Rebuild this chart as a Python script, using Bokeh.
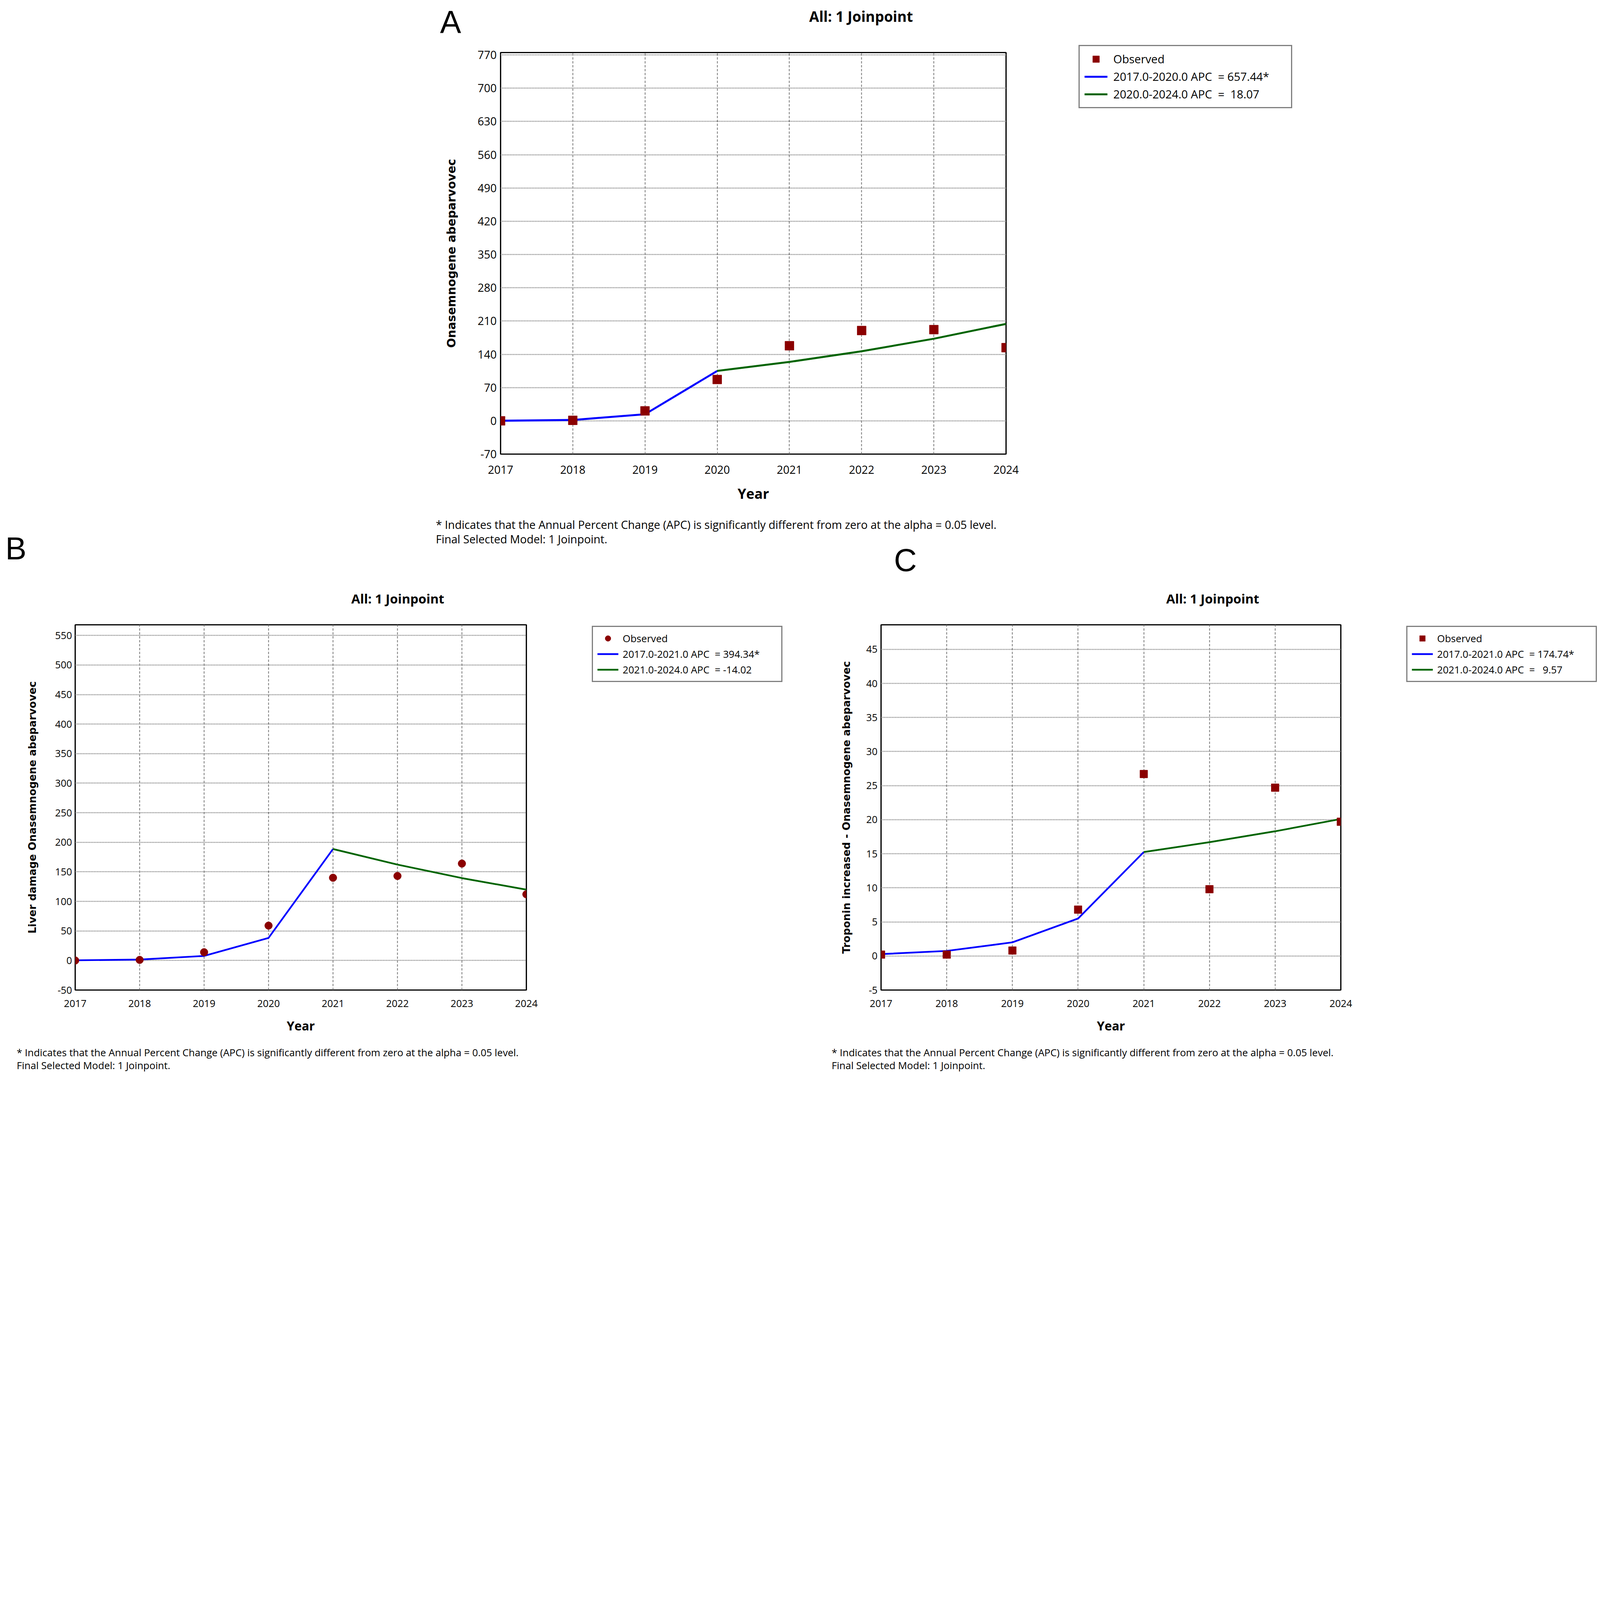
from bokeh.plotting import figure
from bokeh.models import Range1d, FixedTicker, Legend, LegendItem, Label, Spacer
from bokeh.layouts import column, row
from bokeh.core.properties import value
from bokeh.embed import file_html
from bokeh.resources import INLINE

# ---------------- data ----------------
years = [2017, 2018, 2019, 2020, 2021, 2022, 2023, 2024]

a_observed = [0, 1, 21, 87, 158, 190, 192, 154]
a_fit1_years = [2017, 2018, 2019, 2020]
a_fit1 = [0.2, 1.8, 13.9, 105.0]
a_fit2_years = [2020, 2021, 2022, 2023, 2024]
a_fit2 = [105.0, 124.0, 146.4, 172.8, 204.0]
a_y_ticks = [-70, 0, 70, 140, 210, 280, 350, 420, 490, 560, 630, 700, 770]
a_legend = ["Observed", "2017.0-2020.0 APC  = 657.44*", "2020.0-2024.0 APC  =  18.07"]
a_ylabel = "Onasemnogene abeparvovec"

b_observed = [0, 1, 14, 59, 140, 143, 164, 112]
b_fit1_years = [2017, 2018, 2019, 2020, 2021]
b_fit1 = [0.3, 1.6, 7.7, 38.2, 188.6]
b_fit2_years = [2021, 2022, 2023, 2024]
b_fit2 = [188.6, 162.2, 139.4, 119.9]
b_y_ticks = [-50, 0, 50, 100, 150, 200, 250, 300, 350, 400, 450, 500, 550]
b_legend = ["Observed", "2017.0-2021.0 APC  = 394.34*", "2021.0-2024.0 APC  = -14.02"]
b_ylabel = "Liver damage Onasemnogene abeparvovec"

c_observed = [0.2, 0.2, 0.8, 6.8, 26.7, 9.8, 24.7, 19.7]
c_fit1_years = [2017, 2018, 2019, 2020, 2021]
c_fit1 = [0.27, 0.74, 2.0, 5.5, 15.25]
c_fit2_years = [2021, 2022, 2023, 2024]
c_fit2 = [15.25, 16.7, 18.3, 20.1]
c_y_ticks = [-5, 0, 5, 10, 15, 20, 25, 30, 35, 40, 45]
c_legend = ["Observed", "2017.0-2021.0 APC  = 174.74*", "2021.0-2024.0 APC  =   9.57"]
c_ylabel = "Troponin increased - Onasemnogene abeparvovec"

title_text = "All: 1 Joinpoint"
foot1 = "* Indicates that the Annual Percent Change (APC) is significantly different from zero at the alpha = 0.05 level."
foot2 = "Final Selected Model: 1 Joinpoint."

RED = "#8B0000"
BLUE = "#0000FF"
GREEN = "#006400"
GRID = "#707070"
FONT = "Open Sans"
LETTER_FONT = "Liberation Sans"

# ---------------- geometry (reference px -> page px) ----------------
K = 4096 / 6479


def P(r):
    return int(round(r * K))


def S(v):
    return v * K


def FS(v):
    return "%.1fpx" % (v * K)


def draw_series(p, s):
    r1 = p.line(x=s["fit1_years"], y=s["fit1"], line_color=BLUE, line_width=S(s["lw"]))
    r2 = p.line(x=s["fit2_years"], y=s["fit2"], line_color=GREEN, line_width=S(s["lw"]))
    r0 = p.scatter(x=years, y=s["obs"], marker=s["marker"], size=S(s["msize"]),
                   fill_color=RED, line_color=RED)
    return r0, r1, r2


def make_chart(s, cl, ct, cw, ch):
    L, R, T, B = [P(v) for v in s["frame"]]
    y0, y1 = s["yrange"]
    p = figure(width=cw, height=ch, output_backend="svg", toolbar_location=None, title=None,
               x_range=Range1d(2017, 2024), y_range=Range1d(y0, y1),
               min_border_left=L - cl, min_border_right=cl + cw - R,
               min_border_top=T - ct, min_border_bottom=ct + ch - B)
    p.background_fill_color = "white"
    p.border_fill_color = "white"
    p.outline_line_color = "black"
    p.outline_line_width = S(5)

    p.xaxis.ticker = FixedTicker(ticks=years, minor_ticks=[])
    p.yaxis.ticker = FixedTicker(ticks=s["yticks"], minor_ticks=[])
    p.yaxis.major_label_overrides = {s["yticks"][0]: str(s["yticks"][0])}
    for ax in (p.xaxis[0], p.yaxis[0]):
        ax.axis_line_color = None
        ax.major_tick_line_color = None
        ax.minor_tick_line_color = None
        ax.major_tick_out = 0
        ax.major_tick_in = 0
        ax.major_label_text_font = FONT
        ax.major_label_text_font_size = FS(s["tick_fs"])
        ax.major_label_text_color = "black"
    p.xaxis.major_label_standoff = int(round(S(s["x_std"])))
    p.yaxis.major_label_standoff = int(round(S(s["y_std"])))
    p.xaxis.axis_label = "Year"
    p.xaxis.axis_label_text_font = FONT
    p.xaxis.axis_label_text_font_style = "bold"
    p.xaxis.axis_label_text_font_size = FS(s["xlab_fs"])
    p.xaxis.axis_label_text_color = "black"
    p.xaxis.axis_label_standoff = int(round(S(s["xlab_std"])))
    p.yaxis.axis_label = s["ylabel"]
    p.yaxis.axis_label_text_font = "DejaVu Sans"
    p.yaxis.axis_label_text_font_style = "bold"
    p.yaxis.axis_label_text_font_size = FS(s["ylab_fs"])
    p.yaxis.axis_label_text_color = "black"
    p.yaxis.axis_label_standoff = int(round(S(s["ylab_std"])))

    p.xgrid.grid_line_color = GRID
    p.xgrid.grid_line_width = S(3)
    p.xgrid.grid_line_dash = "6 4"
    p.ygrid.grid_line_color = GRID
    p.ygrid.grid_line_width = S(4)
    p.ygrid.grid_line_dash = "2 2"

    draw_series(p, s)
    return p


def make_legend_fig(s, fx0, fy0, fw, fh):
    """Separate canvas for the key; the same series are drawn off-frame so only the key shows."""
    lg = s["legend"]
    m = 3
    lleft, ltop = P(lg["left"]), P(lg["top"])
    q = figure(width=fw, height=fh, output_backend="svg", toolbar_location=None, title=None,
               x_range=Range1d(0, 1), y_range=Range1d(0, 1),
               x_axis_type=None, y_axis_type=None,
               min_border_left=lleft - fx0 - m, min_border_right=0,
               min_border_top=ltop - fy0 - m, min_border_bottom=0)
    q.outline_line_color = None
    q.background_fill_color = "white"
    q.border_fill_color = "white"
    r0, r1, r2 = draw_series(q, s)
    pad, h, sp = lg["pad"], lg["h"], lg["sp"]
    label_w = int(round(S(lg["width"]))) - 2 * pad - lg["gw"] - lg["std"]
    legend = Legend(items=[LegendItem(label=value(s["labels"][0]), renderers=[r0]),
                           LegendItem(label=value(s["labels"][1]), renderers=[r1]),
                           LegendItem(label=value(s["labels"][2]), renderers=[r2])],
                    location="top_left",
                    padding=pad, spacing=sp, margin=m,
                    glyph_width=lg["gw"], glyph_height=h, label_height=h,
                    label_width=label_w, label_standoff=lg["std"],
                    border_line_color="black", border_line_width=3,
                    background_fill_color="white", background_fill_alpha=1.0,
                    label_text_font=FONT, label_text_font_size=FS(lg["fs"]),
                    label_text_color="black")
    q.add_layout(legend)
    return q


def make_banner(width, top_ref, bottom_ref, texts):
    top, bottom = P(top_ref), P(bottom_ref)
    height = bottom - top
    b = figure(width=width, height=height, output_backend="svg", toolbar_location=None, title=None,
               x_range=Range1d(0, width), y_range=Range1d(height, 0),
               x_axis_type=None, y_axis_type=None,
               min_border_left=0, min_border_right=0, min_border_top=0, min_border_bottom=0)
    b.outline_line_color = None
    b.background_fill_color = "white"
    b.border_fill_color = "white"
    for t in texts:
        b.add_layout(Label(x=S(t["x"]), y=S(t["y"]) - top, text=t["text"],
                           text_font=t.get("font", FONT),
                           text_font_size=FS(t["fs"]), text_font_style=t.get("style", "normal"),
                           text_align=t.get("align", "left"), text_baseline="middle",
                           text_color="black"))
    return b


spec_a = dict(frame=(2027, 4073, 212, 1838), yrange=(-70, 775),
              yticks=a_y_ticks, ylabel=a_ylabel, obs=a_observed,
              fit1_years=a_fit1_years, fit1=a_fit1, fit2_years=a_fit2_years, fit2=a_fit2,
              labels=a_legend, marker="square", msize=36, lw=8,
              tick_fs=45, xlab_fs=56, ylab_fs=47,
              x_std=46, y_std=16, xlab_std=36, ylab_std=74,
              legend=dict(left=4367, top=182, width=856, pad=12, sp=3, h=42, gw=59, std=15, fs=46))

spec_b = dict(frame=(303, 2130, 2529, 4009), yrange=(-50, 568),
              yticks=b_y_ticks, ylabel=b_ylabel, obs=b_observed,
              fit1_years=b_fit1_years, fit1=b_fit1, fit2_years=b_fit2_years, fit2=b_fit2,
              labels=b_legend, marker="circle", msize=31, lw=7,
              tick_fs=40, xlab_fs=50, ylab_fs=42,
              x_std=39, y_std=12, xlab_std=36, ylab_std=63,
              legend=dict(left=2396, top=2521, width=763, pad=11, sp=4, h=36, gw=54, std=11, fs=40.5))

spec_c = dict(frame=(3567, 5429, 2529, 4009), yrange=(-5, 48.6),
              yticks=c_y_ticks, ylabel=c_ylabel, obs=c_observed,
              fit1_years=c_fit1_years, fit1=c_fit1, fit2_years=c_fit2_years, fit2=c_fit2,
              labels=c_legend, marker="square", msize=31, lw=7,
              tick_fs=40, xlab_fs=50, ylab_fs=42,
              x_std=39, y_std=14, xlab_std=36, ylab_std=52,
              legend=dict(left=5694, top=2521, width=763, pad=11, sp=4, h=36, gw=54, std=11, fs=40.5))

# vertical bands (reference px)
ROW_A_TOP, ROW_A_BOT = 170, 2088
ROW_BC_TOP, ROW_BC_BOT = 2462, 4230
PAGE_BOT = 4355
FULL_W = P(6475)
EDGE = 45  # room right of each frame for the last year label

# top block: [banner1 over chart A] + tall key canvas for A
a_left = P(1700)
a_right = P(spec_a["frame"][1]) + EDGE
ya0, ya1 = P(ROW_A_TOP), P(ROW_A_BOT)
pA = make_chart(spec_a, a_left, ya0, a_right - a_left, ya1 - ya0)
lA = make_legend_fig(spec_a, a_right, 0, FULL_W - a_right, ya1)

banner1 = make_banner(a_right, 0, ROW_A_TOP, [
    dict(text="A", x=1781, y=88, fs=128, font=LETTER_FONT),
    dict(text=title_text, x=3486, y=65, fs=58, style="bold", align="center"),
])

# row B / C
yb0, yb1 = P(ROW_BC_TOP), P(ROW_BC_BOT)
b_right = P(spec_b["frame"][1]) + EDGE
c_left = P(3250)
c_right = P(spec_c["frame"][1]) + EDGE
pB = make_chart(spec_b, 0, yb0, b_right, yb1 - yb0)
lB = make_legend_fig(spec_b, b_right, yb0, c_left - b_right, yb1 - yb0)
pC = make_chart(spec_c, c_left, yb0, c_right - c_left, yb1 - yb0)
lC = make_legend_fig(spec_c, c_right, yb0, FULL_W - c_right, yb1 - yb0)

banner2 = make_banner(FULL_W, ROW_A_BOT, ROW_BC_TOP, [
    dict(text=foot1, x=1764, y=2122, fs=45.2),
    dict(text=foot2, x=1764, y=2182, fs=45.2),
    dict(text="B", x=21, y=2220, fs=128, font=LETTER_FONT),
    dict(text="C", x=3619, y=2268, fs=128, font=LETTER_FONT),
    dict(text=title_text, x=1610, y=2424, fs=52, style="bold", align="center"),
    dict(text=title_text, x=4910, y=2424, fs=52, style="bold", align="center"),
])
banner3 = make_banner(FULL_W, ROW_BC_BOT, PAGE_BOT, [
    dict(text=foot1, x=67, y=4261, fs=40.5),
    dict(text=foot2, x=67, y=4314, fs=40.5),
    dict(text=foot1, x=3367, y=4261, fs=40.5),
    dict(text=foot2, x=3367, y=4314, fs=40.5),
])

top_block = row(column(banner1, row(Spacer(width=a_left, height=ya1 - ya0), pA)), lA)
layout = column(top_block,
                banner2,
                row(pB, lB, pC, lC),
                banner3)

open("out.html", "w").write(file_html(layout, INLINE))
